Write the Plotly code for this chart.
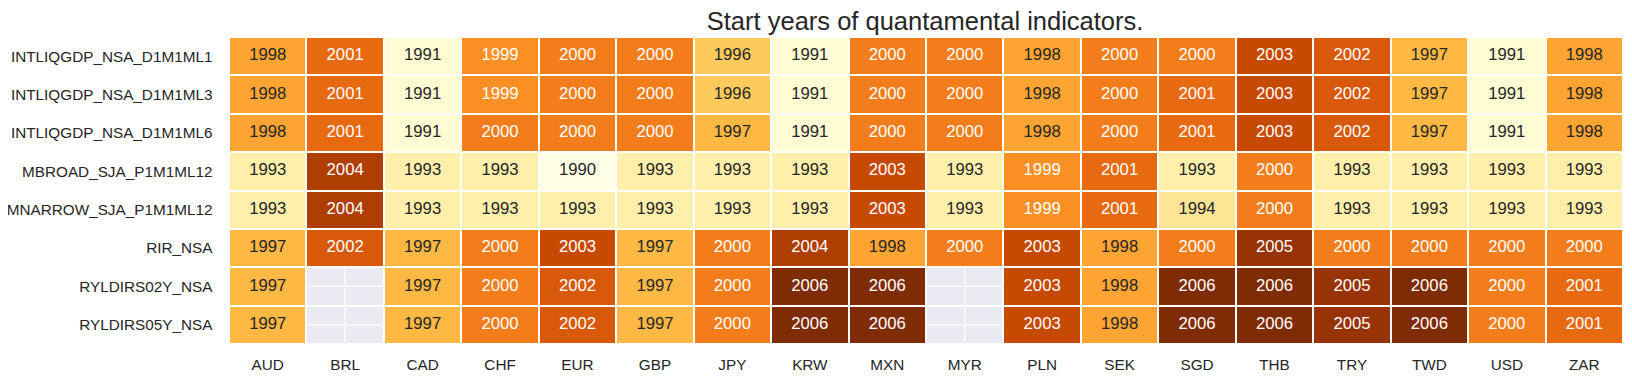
import numpy as np
import plotly.graph_objects as go

title = "Start years of quantamental indicators."
currencies = ["AUD", "BRL", "CAD", "CHF", "EUR", "GBP", "JPY", "KRW", "MXN", "MYR",
              "PLN", "SEK", "SGD", "THB", "TRY", "TWD", "USD", "ZAR"]
indicators = ["INTLIQGDP_NSA_D1M1ML1", "INTLIQGDP_NSA_D1M1ML3", "INTLIQGDP_NSA_D1M1ML6",
              "MBROAD_SJA_P1M1ML12", "MNARROW_SJA_P1M1ML12", "RIR_NSA",
              "RYLDIRS02Y_NSA", "RYLDIRS05Y_NSA"]
N = None
intliq_ml1 = [1998, 2001, 1991, 1999, 2000, 2000, 1996, 1991, 2000, 2000, 1998, 2000, 2000, 2003, 2002, 1997, 1991, 1998]
intliq_ml3 = [1998, 2001, 1991, 1999, 2000, 2000, 1996, 1991, 2000, 2000, 1998, 2000, 2001, 2003, 2002, 1997, 1991, 1998]
intliq_ml6 = [1998, 2001, 1991, 2000, 2000, 2000, 1997, 1991, 2000, 2000, 1998, 2000, 2001, 2003, 2002, 1997, 1991, 1998]
mbroad = [1993, 2004, 1993, 1993, 1990, 1993, 1993, 1993, 2003, 1993, 1999, 2001, 1993, 2000, 1993, 1993, 1993, 1993]
mnarrow = [1993, 2004, 1993, 1993, 1993, 1993, 1993, 1993, 2003, 1993, 1999, 2001, 1994, 2000, 1993, 1993, 1993, 1993]
rir = [1997, 2002, 1997, 2000, 2003, 1997, 2000, 2004, 1998, 2000, 2003, 1998, 2000, 2005, 2000, 2000, 2000, 2000]
ryld02 = [1997, N, 1997, 2000, 2002, 1997, 2000, 2006, 2006, N, 2003, 1998, 2006, 2006, 2005, 2006, 2000, 2001]
ryld05 = [1997, N, 1997, 2000, 2002, 1997, 2000, 2006, 2006, N, 2003, 1998, 2006, 2006, 2005, 2006, 2000, 2001]

rows = [intliq_ml1, intliq_ml3, intliq_ml6, mbroad, mnarrow, rir, ryld02, ryld05]
Z = np.array([[np.nan if v is None else v for v in r] for r in rows], dtype=float)

# YlOrBr colormap, centred on the mean as seaborn does
ylorbr = ["#ffffe5", "#fff7bc", "#fee391", "#fec44f", "#fe9929",
          "#ec7014", "#cc4c02", "#993404", "#662506"]
stops = np.linspace(0, 1, len(ylorbr))
colorscale = [[float(s), c] for s, c in zip(stops, ylorbr)]
vals = Z[~np.isnan(Z)]
vmin, vmax, center = vals.min(), vals.max(), vals.mean()
vrange = max(vmax - center, center - vmin)
zlo, zhi = center - vrange, center + vrange

rgb_stops = np.array([[int(c[i:i + 2], 16) / 255 for i in (1, 3, 5)] for c in ylorbr])


def cmap(v):
    t = (v - zlo) / (zhi - zlo)
    return np.array([np.interp(t, stops, rgb_stops[:, k]) for k in range(3)])


def lum(rgb):
    rgb = np.where(rgb <= .03928, rgb / 12.92, ((rgb + .055) / 1.055) ** 2.4)
    return rgb.dot([.2126, .7152, .0722])


fig = go.Figure()
mask = np.where(np.isnan(Z), 1.0, np.nan)
fig.add_trace(go.Heatmap(z=mask, x=currencies, y=indicators, xgap=2, ygap=2,
                         colorscale=[[0, "#EAEAF2"], [1, "#EAEAF2"]], showscale=False,
                         hoverinfo="skip"))
fig.add_trace(go.Heatmap(z=Z, x=currencies, y=indicators, xgap=2, ygap=2,
                         colorscale=colorscale, zmin=zlo, zmax=zhi, showscale=False))

tx, ty, tt, tc = [], [], [], []
for i, ind in enumerate(indicators):
    for j, cur in enumerate(currencies):
        v = Z[i, j]
        if np.isnan(v):
            continue
        tx.append(cur)
        ty.append(ind)
        tt.append(f"{v:.0f}")
        tc.append("#262626" if lum(cmap(v)) > .408 else "#ffffff")
fig.add_trace(go.Scatter(x=tx, y=ty, text=tt, mode="text",
                         textfont=dict(color=tc, size=16.7, family="Liberation Sans, Arial"),
                         hoverinfo="skip", showlegend=False))

shapes = []
for i in range(len(indicators)):
    for j in range(len(currencies)):
        if np.isnan(Z[i, j]):
            shapes.append(dict(type="line", xref="x", yref="y", x0=j, x1=j, y0=i - 0.5, y1=i + 0.5,
                               line=dict(color="white", width=1.3)))
            shapes.append(dict(type="line", xref="x", yref="y", x0=j - 0.5, x1=j + 0.5, y0=i, y1=i,
                               line=dict(color="white", width=1.3)))

# the page body adds an 8px margin, so the figure is 16px smaller than the window
fig.update_layout(
    width=1616, height=365,
    margin=dict(l=221, r=1, t=29, b=29),
    paper_bgcolor="white", plot_bgcolor="white",
    font=dict(family="Liberation Sans, Arial", size=15.3, color="#262626"),
    title=dict(text=title, x=0.5675, xanchor="center", y=0.965, yanchor="middle",
               font=dict(size=25.5, color="#262626")),
    shapes=shapes,
    showlegend=False,
)
fig.update_xaxes(range=[-0.5, len(currencies) - 0.5], showgrid=False, zeroline=False, automargin=False,
                 ticks="outside", ticklen=7, tickcolor="rgba(0,0,0,0)", tickfont=dict(size=15.3))
fig.update_yaxes(range=[len(indicators) - 0.5, -0.5], showgrid=False, zeroline=False, automargin=False,
                 ticks="outside", ticklen=12.5, tickcolor="rgba(0,0,0,0)", tickfont=dict(size=15.3))

fig.write_html("out.html")
